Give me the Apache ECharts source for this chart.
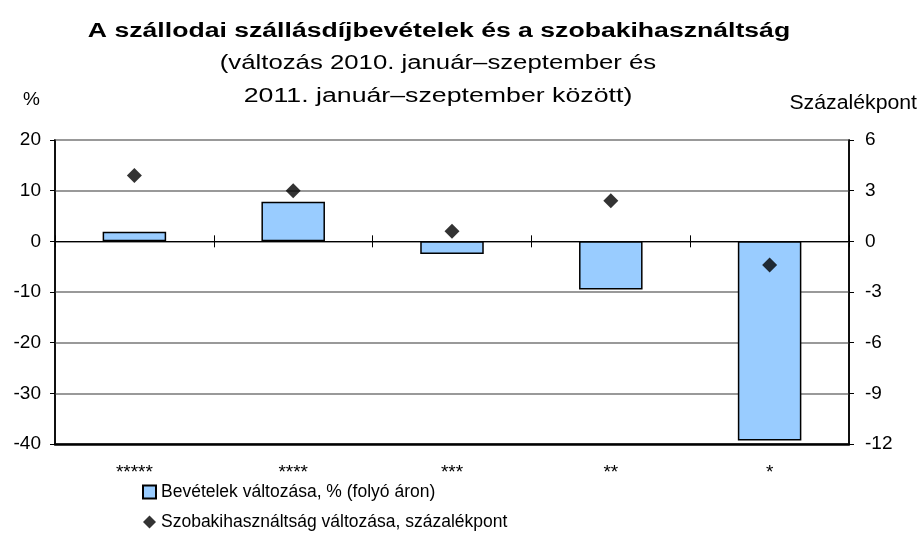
<!DOCTYPE html>
<html>
<head>
<meta charset="utf-8">
<script src="https://cdn.jsdelivr.net/npm/echarts@6/dist/echarts.min.js"></script>
<style>
  html, body { margin: 0; padding: 0; background: #fff; }
  #chart { width: 921px; height: 550px; }
</style>
</head>
<body>
<div id="chart"></div>
<script>
const categories = ['*****', '****', '***', '**', '*']
const revenueChange = [1.9, 7.8, -2.5, -9.5, -39.3]
const occupancyChange = [3.9, 3.0, 0.6, 2.4, -1.4]
const leftTicks = { min: -40, max: 20, interval: 10 }
const rightTicks = { min: -12, max: 6, interval: 3 }

const font = 'Liberation Sans, Arial, sans-serif'
const chart = echarts.init(document.getElementById('chart'))

// the source picture is a bit stretched sideways, so titles are scaled in x
function label(text, x, y, size, weight, sx, align){
    return {
        type: 'text', x, y, scaleX: sx,
        style: {
            text, fontSize: size, fontWeight: weight, fill: '#000', fontFamily: font,
            align: align || 'center', verticalAlign: 'middle'
        }
    }
}

const option = {
    animation: false,
    textStyle: { fontFamily: font },
    graphic: [
        label('A szállodai szállásdíjbevételek és a szobakihasználtság', 439, 31, 20, 'bold', 1.33),
        label('(változás 2010. január–szeptember és', 438, 64, 19.5, 'normal', 1.32),
        label('2011. január–szeptember között)', 438, 97, 19.5, 'normal', 1.37),
        label('%', 23, 100, 19, 'normal', 1, 'left'),
        label('Százalékpont', 917, 104, 19.5, 'normal', 1.09, 'right')
    ],
    legend: {
        orient: 'vertical',
        left: 137, top: 478,
        itemWidth: 13, itemHeight: 13, itemGap: 12,
        textStyle: { fontSize: 17.5, color: '#000', fontFamily: font },
        data: [
            { name: 'Bevételek változása, % (folyó áron)', icon: 'rect' },
            { name: 'Szobakihasználtság változása, százalékpont', icon: 'diamond', itemStyle: { borderWidth: 0 } }
        ]
    },
    grid: { left: 55, right: 72, top: 140, bottom: 106, show: true, borderColor: '#000', borderWidth: 1.5 },
    xAxis: [
        {
            type: 'category', data: categories, position: 'bottom',
            axisLine: { onZero: false, lineStyle: { color: '#000', width: 2.5 } },
            axisTick: { show: false },
            axisLabel: { fontSize: 19, color: '#000', margin: 19 }
        },
        {
            type: 'category', data: categories, position: 'bottom',
            axisLine: { onZero: true, onZeroAxisIndex: 0, lineStyle: { color: '#000', width: 1 } },
            axisTick: { show: true, length: 6, lineStyle: { color: '#000' } },
            axisLabel: { show: false }
        },
        {
            type: 'category', data: categories, position: 'bottom',
            axisLine: { onZero: true, onZeroAxisIndex: 0, lineStyle: { color: '#000', width: 1 } },
            axisTick: { show: true, inside: true, length: 6, lineStyle: { color: '#000' } },
            axisLabel: { show: false }
        }
    ],
    yAxis: [
        {
            type: 'value', min: leftTicks.min, max: leftTicks.max, interval: leftTicks.interval,
            axisLine: { show: true, lineStyle: { color: '#000', width: 1.5 } },
            axisTick: { show: true, length: 5, lineStyle: { color: '#000' } },
            axisLabel: { fontSize: 19, color: '#000', margin: 14 },
            splitLine: { show: true, lineStyle: { color: '#999', width: 2 } }
        },
        {
            type: 'value', min: rightTicks.min, max: rightTicks.max, interval: rightTicks.interval,
            axisLine: { show: true, lineStyle: { color: '#000', width: 1.5 } },
            axisTick: { show: true, length: 5, lineStyle: { color: '#000' } },
            axisLabel: { fontSize: 19, color: '#000', margin: 16 },
            splitLine: { show: false }
        }
    ],
    series: [
        {
            name: 'Bevételek változása, % (folyó áron)',
            type: 'bar', xAxisIndex: 0, yAxisIndex: 0,
            data: revenueChange,
            barWidth: '40%',
            itemStyle: { color: '#99ccff', borderColor: '#000', borderWidth: 1.5 },
            z: 3
        },
        {
            name: 'Szobakihasználtság változása, százalékpont',
            type: 'scatter', xAxisIndex: 0, yAxisIndex: 1,
            data: occupancyChange,
            symbol: 'diamond', symbolSize: 15,
            itemStyle: { color: '#000' },
            z: 4
        }
    ]
}

chart.setOption(option)
</script>
</body>
</html>
